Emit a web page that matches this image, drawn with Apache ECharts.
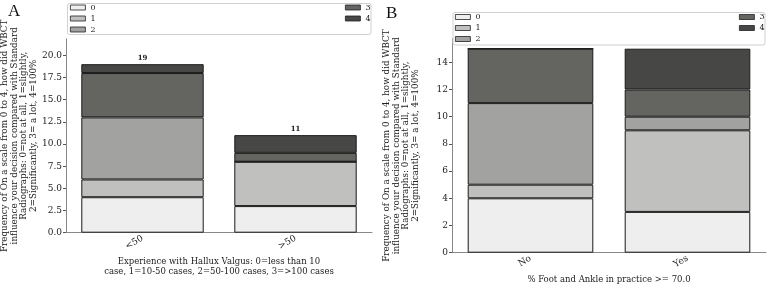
<!DOCTYPE html>
<html>
<head>
<meta charset="utf-8">
<script src="https://cdn.jsdelivr.net/npm/echarts@6/dist/echarts.min.js"></script>
<style>
  html, body { margin: 0; padding: 0; background: #fff; }
  #chart { width: 768px; height: 285px; }
</style>
</head>
<body>
<div id="chart"></div>
<script>
// panel A: experience with hallux valgus
const catsA = ['<50', '>50'];
// panel B: % foot and ankle in practice
const catsB = ['No', 'Yes'];
const levels = ['0', '1', '2', '3', '4'];
const colors = ['#eeeeee', '#c0c0be', '#a2a2a0', '#646461', '#474745'];

// counts per level (0..4), one value per category
const dataA = [
  [4, 3],
  [2, 5],
  [7, 0],
  [5, 1],
  [1, 2]
];
const dataB = [
  [4, 3],
  [1, 6],
  [6, 1],
  [4, 2],
  [0, 3]
];
const totalsA = catsA.map((c, i) => dataA.reduce((s, row) => s + row[i], 0));

const serif = 'DejaVu Serif';
const yName = 'Frequency of On a scale from 0 to 4, how did WBCT\ninfluence your decision compared with Standard\nRadiographs: 0=not at all, 1=slightly,\n2=Significantly, 3= a lot, 4=100%';

const axisLine = { lineStyle: { color: '#888', width: 1 } };
const axisTick = { length: 3, lineStyle: { color: '#555' } };

function makeSeries(data, idx, withTotals) {
  return data.map((vals, k) => ({
    name: levels[k],
    type: 'bar',
    stack: 'p' + idx,
    xAxisIndex: idx,
    yAxisIndex: idx,
    barWidth: '80%',
    data: vals,
    itemStyle: { color: colors[k], borderColor: '#1a1a1a', borderWidth: 1 },
    label: (withTotals && k === data.length - 1) ? {
      show: true,
      position: 'top',
      distance: 2,
      fontSize: 7,
      fontWeight: 'bold',
      fontFamily: serif,
      color: '#222',
      formatter: p => totalsA[p.dataIndex]
    } : { show: false }
  }));
}

function legendPair(left1, left2, top) {
  const common = {
    orient: 'vertical',
    top: top,
    itemWidth: 15,
    itemHeight: 5,
    itemGap: 3,
    icon: 'rect',
    z: 12,
    itemStyle: { borderWidth: 0.8, borderColor: '#222' },
    textStyle: { fontFamily: serif, fontSize: 8, lineHeight: 8, color: '#222', padding: [0, 0, 0, 0] },
    padding: 0
  };
  return [
    Object.assign({}, common, { left: left1, data: ['0', '1', '2'] }),
    Object.assign({}, common, { left: left2, data: ['3', '4'] })
  ];
}

const chart = echarts.init(document.getElementById('chart'));
chart.setOption({
  animation: false,
  backgroundColor: '#fff',
  graphic: [
    { type: 'text', left: 8, top: 3, z: 20, style: { text: 'A', font: '17px "Liberation Serif"', fill: '#111' } },
    { type: 'text', left: 386, top: 5, z: 20, style: { text: 'B', font: '17px "Liberation Serif"', fill: '#111' } },
    { type: 'rect', z: 10, shape: { x: 67.5, y: 3.5, width: 303.5, height: 31, r: 2 }, style: { fill: '#fff', stroke: '#d0d0d0', lineWidth: 1 } },
    { type: 'rect', z: 10, shape: { x: 453, y: 12.5, width: 312, height: 32.5, r: 2 }, style: { fill: '#fff', stroke: '#d0d0d0', lineWidth: 1 } }
  ],
  legend: legendPair(70, 345, 3.5).concat(legendPair(455, 739, 13)),
  grid: [
    { left: 66, top: 38.9, width: 306, height: 193.8, outerBoundsMode: 'none' },
    { left: 452, top: 38.5, width: 314, height: 214.2, outerBoundsMode: 'none' }
  ],
  xAxis: [
    {
      type: 'category', gridIndex: 0, data: catsA,
      axisLine: axisLine, axisTick: Object.assign({ alignWithLabel: true }, axisTick),
      axisLabel: { rotate: 30, fontFamily: serif, fontSize: 9, color: '#222', margin: 5 },
      name: 'Experience with Hallux Valgus: 0=less than 10\ncase, 1=10-50 cases, 2=50-100 cases, 3=>100 cases',
      nameLocation: 'middle', nameGap: 20,
      nameTextStyle: { fontFamily: serif, fontSize: 8.5, lineHeight: 9.5, color: '#222' }
    },
    {
      type: 'category', gridIndex: 1, data: catsB,
      axisLine: axisLine, axisTick: Object.assign({ alignWithLabel: true }, axisTick),
      axisLabel: { rotate: 30, fontFamily: serif, fontSize: 9, color: '#222', margin: 5 },
      name: '% Foot and Ankle in practice >= 70.0',
      nameLocation: 'middle', nameGap: 19,
      nameTextStyle: { fontFamily: serif, fontSize: 8.5, color: '#222' }
    }
  ],
  yAxis: [
    {
      type: 'value', gridIndex: 0, min: 0, max: 21.85, interval: 2.5,
      axisLine: Object.assign({ show: true }, axisLine), axisTick: Object.assign({ show: true }, axisTick),
      splitLine: { show: false },
      axisLabel: { showMaxLabel: false, fontFamily: serif, fontSize: 9, color: '#222', margin: 4, formatter: v => v.toFixed(1) },
      name: yName, nameLocation: 'middle', nameRotate: 90, nameGap: 28,
      nameTextStyle: { fontFamily: serif, fontSize: 8.8, lineHeight: 9.5, color: '#222' }
    },
    {
      type: 'value', gridIndex: 1, min: 0, max: 15.75, interval: 2,
      axisLine: Object.assign({ show: true }, axisLine), axisTick: Object.assign({ show: true }, axisTick),
      splitLine: { show: false },
      axisLabel: { showMaxLabel: false, fontFamily: serif, fontSize: 9, color: '#222', margin: 4 },
      name: yName, nameLocation: 'middle', nameRotate: 90, nameGap: 32,
      nameTextStyle: { fontFamily: serif, fontSize: 8.8, lineHeight: 9.5, color: '#222' }
    }
  ],
  series: makeSeries(dataA, 0, true).concat(makeSeries(dataB, 1, false))
});
</script>
</body>
</html>
